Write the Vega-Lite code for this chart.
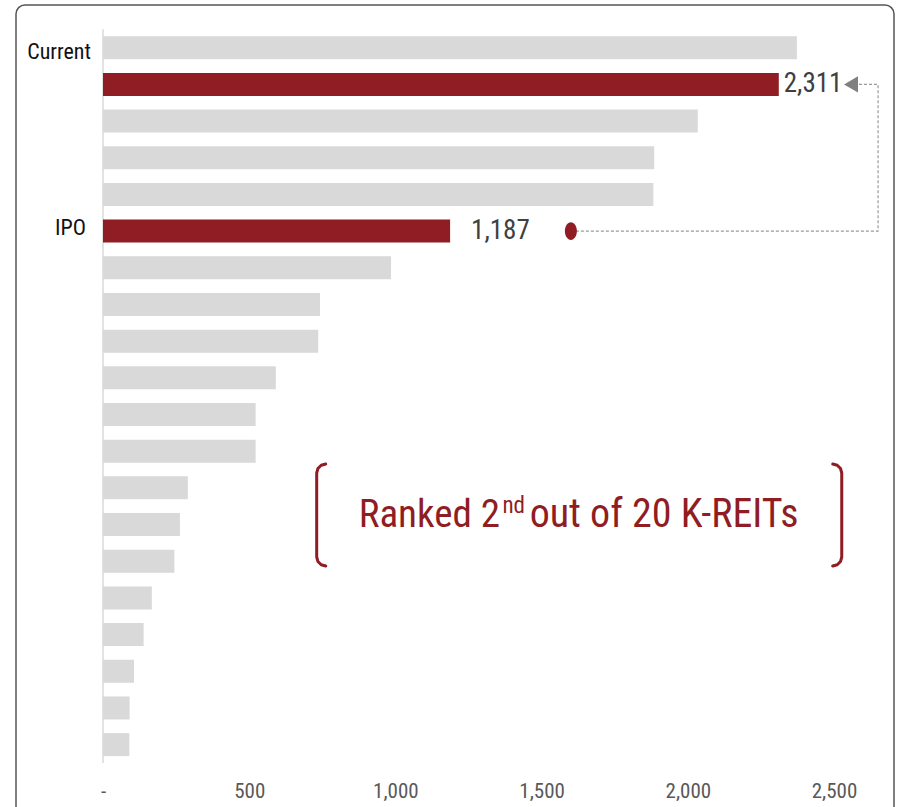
{
  "$schema": "https://vega.github.io/schema/vega-lite/v6.json",
  "width": 878,
  "height": 812,
  "autosize": {"type": "none"},
  "padding": {"left": 16, "top": 5, "right": 5, "bottom": 0},
  "background": "white",
  "config": {
    "view": {"stroke": "#555555", "strokeWidth": 1.5, "cornerRadius": 9},
    "font": "Roboto Condensed",
    "text": {"font": "Roboto Condensed"}
  },
  "datasets": {
    "bars": [
      {"row": 1, "value": 2373, "hl": "n", "cat": "Current"},
      {"row": 2, "value": 2311, "hl": "y", "cat": ""},
      {"row": 3, "value": 2034, "hl": "n", "cat": ""},
      {"row": 4, "value": 1885, "hl": "n", "cat": ""},
      {"row": 5, "value": 1882, "hl": "n", "cat": ""},
      {"row": 6, "value": 1187, "hl": "y", "cat": "IPO"},
      {"row": 7, "value": 985, "hl": "n", "cat": ""},
      {"row": 8, "value": 742, "hl": "n", "cat": ""},
      {"row": 9, "value": 736, "hl": "n", "cat": ""},
      {"row": 10, "value": 591, "hl": "n", "cat": ""},
      {"row": 11, "value": 522, "hl": "n", "cat": ""},
      {"row": 12, "value": 522, "hl": "n", "cat": ""},
      {"row": 13, "value": 290, "hl": "n", "cat": ""},
      {"row": 14, "value": 263, "hl": "n", "cat": ""},
      {"row": 15, "value": 244, "hl": "n", "cat": ""},
      {"row": 16, "value": 167, "hl": "n", "cat": ""},
      {"row": 17, "value": 139, "hl": "n", "cat": ""},
      {"row": 18, "value": 106, "hl": "n", "cat": ""},
      {"row": 19, "value": 91, "hl": "n", "cat": ""},
      {"row": 20, "value": 90, "hl": "n", "cat": ""}
    ],
    "conn": [
      {"i": 1, "value": 1600, "row": 6},
      {"i": 2, "value": 2650.5, "row": 6},
      {"i": 3, "value": 2650.5, "row": 2},
      {"i": 4, "value": 2585, "row": 2}
    ],
    "brackets": [
      {"side": "L", "i": 1, "value": 761.6, "row": 12.35},
      {"side": "L", "i": 2, "value": 746.2, "row": 12.383},
      {"side": "L", "i": 3, "value": 734.9, "row": 12.473},
      {"side": "L", "i": 4, "value": 730.8, "row": 12.595},
      {"side": "L", "i": 5, "value": 730.8, "row": 14.885},
      {"side": "L", "i": 6, "value": 734.9, "row": 15.007},
      {"side": "L", "i": 7, "value": 746.2, "row": 15.097},
      {"side": "L", "i": 8, "value": 761.6, "row": 15.13},
      {"side": "R", "i": 1, "value": 2495.5, "row": 12.35},
      {"side": "R", "i": 2, "value": 2510.9, "row": 12.383},
      {"side": "R", "i": 3, "value": 2522.2, "row": 12.473},
      {"side": "R", "i": 4, "value": 2526.3, "row": 12.595},
      {"side": "R", "i": 5, "value": 2526.3, "row": 14.885},
      {"side": "R", "i": 6, "value": 2522.2, "row": 15.007},
      {"side": "R", "i": 7, "value": 2510.9, "row": 15.097},
      {"side": "R", "i": 8, "value": 2495.5, "row": 15.13}
    ]
  },
  "layer": [
    {
      "data": {"values": [{"a": 0}]},
      "mark": {"type": "rule", "color": "#d9d9d9", "strokeWidth": 1.5},
      "encoding": {
        "x": {"datum": 0, "type": "quantitative",
              "scale": {"domain": [-297.5, 2705], "nice": false, "zero": false, "padding": 0},
              "axis": {"values": [0, 500, 1000, 1500, 2000, 2500], "labelExpr": "datum.value == 0 ? '-' : format(datum.value, ',')", "title": null, "domain": false, "ticks": false, "grid": false, "offset": -39, "labelPadding": 2, "labelFontSize": 21, "labelColor": "#595959", "labelFont": "Roboto Condensed"}},
        "y": {"datum": 0.5, "type": "quantitative", "scale": {"domain": [-0.164, 21.973], "nice": false, "zero": false, "reverse": true, "padding": 0}, "axis": null},
        "y2": {"datum": 20.5}
      }
    },
    {
      "data": {"name": "bars"},
      "mark": {"type": "bar", "orient": "horizontal", "height": 23},
      "encoding": {
        "x": {"field": "value", "type": "quantitative", "stack": null,
              "scale": {"domain": [-297.5, 2705], "nice": false, "zero": false, "padding": 0}},
        "x2": {"datum": 0},
        "y": {"field": "row", "type": "quantitative", "scale": {"domain": [-0.164, 21.973], "nice": false, "zero": false, "reverse": true, "padding": 0}},
        "color": {"field": "hl", "type": "nominal", "scale": {"domain": ["n", "y"], "range": ["#d9d9d9", "#8f1d23"]}, "legend": null}
      }
    },
    {
      "data": {"name": "bars"},
      "transform": [{"filter": "datum.row == 2"}],
      "mark": {"type": "text", "align": "left", "baseline": "middle", "dx": 5, "fontSize": 27, "color": "#404040"},
      "encoding": {
        "x": {"field": "value", "type": "quantitative"},
        "y": {"field": "row", "type": "quantitative"},
        "text": {"field": "value", "type": "quantitative", "format": ","}
      }
    },
    {
      "data": {"name": "bars"},
      "transform": [{"filter": "datum.row == 6"}],
      "mark": {"type": "text", "align": "left", "baseline": "middle", "dx": 21, "fontSize": 27, "color": "#404040"},
      "encoding": {
        "x": {"field": "value", "type": "quantitative"},
        "y": {"field": "row", "type": "quantitative"},
        "text": {"field": "value", "type": "quantitative", "format": ","}
      }
    },
    {
      "data": {"name": "bars"},
      "transform": [{"filter": "datum.row == 1"}],
      "mark": {"type": "text", "align": "right", "baseline": "middle", "dx": -12, "dy": 4, "fontSize": 22, "color": "#111111"},
      "encoding": {
        "x": {"datum": 0, "type": "quantitative"},
        "y": {"field": "row", "type": "quantitative"},
        "text": {"field": "cat"}
      }
    },
    {
      "data": {"name": "bars"},
      "transform": [{"filter": "datum.row == 6"}],
      "mark": {"type": "text", "align": "right", "baseline": "middle", "dx": -17, "dy": -3, "fontSize": 22, "color": "#111111"},
      "encoding": {
        "x": {"datum": 0, "type": "quantitative"},
        "y": {"field": "row", "type": "quantitative"},
        "text": {"field": "cat"}
      }
    },
    {
      "data": {"name": "conn"},
      "mark": {"type": "line", "color": "#999999", "strokeWidth": 1.2, "strokeDash": [3, 2]},
      "encoding": {
        "x": {"field": "value", "type": "quantitative"},
        "y": {"field": "row", "type": "quantitative"},
        "order": {"field": "i", "type": "quantitative"}
      }
    },
    {
      "data": {"values": [{"value": 2558, "row": 2}]},
      "mark": {"type": "point", "shape": "triangle-left", "filled": true, "size": 260, "color": "#808080", "opacity": 1},
      "encoding": {
        "x": {"field": "value", "type": "quantitative"},
        "y": {"field": "row", "type": "quantitative"}
      }
    },
    {
      "data": {"values": [{"value": 1600, "row": 6}]},
      "mark": {"type": "point", "shape": "M0,-1A0.68,1,0,1,1,0,1A0.68,1,0,1,1,0,-1Z", "filled": true, "size": 313, "color": "#8f1d23", "opacity": 1},
      "encoding": {
        "x": {"field": "value", "type": "quantitative"},
        "y": {"field": "row", "type": "quantitative"}
      }
    },
    {
      "data": {"name": "brackets"},
      "mark": {"type": "line", "color": "#8f1d23", "strokeWidth": 3, "strokeCap": "round", "strokeJoin": "round"},
      "encoding": {
        "x": {"field": "value", "type": "quantitative"},
        "y": {"field": "row", "type": "quantitative"},
        "detail": {"field": "side"},
        "order": {"field": "i", "type": "quantitative"}
      }
    },
    {
      "data": {"values": [{"value": 1357.7, "row": 14.06, "t": "Ranked 2"}]},
      "mark": {"type": "text", "align": "right", "baseline": "alphabetic", "fontSize": 39, "color": "#8f1d23"},
      "encoding": {
        "x": {"field": "value", "type": "quantitative"},
        "y": {"field": "row", "type": "quantitative"},
        "text": {"field": "t"}
      }
    },
    {
      "data": {"values": [{"value": 1366, "row": 13.69, "t": "nd"}]},
      "mark": {"type": "text", "align": "left", "baseline": "alphabetic", "fontSize": 23, "color": "#8f1d23"},
      "encoding": {
        "x": {"field": "value", "type": "quantitative"},
        "y": {"field": "row", "type": "quantitative"},
        "text": {"field": "t"}
      }
    },
    {
      "data": {"values": [{"value": 1459, "row": 14.06, "t": "out of 20 K-REITs"}]},
      "mark": {"type": "text", "align": "left", "baseline": "alphabetic", "fontSize": 40, "color": "#8f1d23"},
      "encoding": {
        "x": {"field": "value", "type": "quantitative"},
        "y": {"field": "row", "type": "quantitative"},
        "text": {"field": "t"}
      }
    }
  ]
}
